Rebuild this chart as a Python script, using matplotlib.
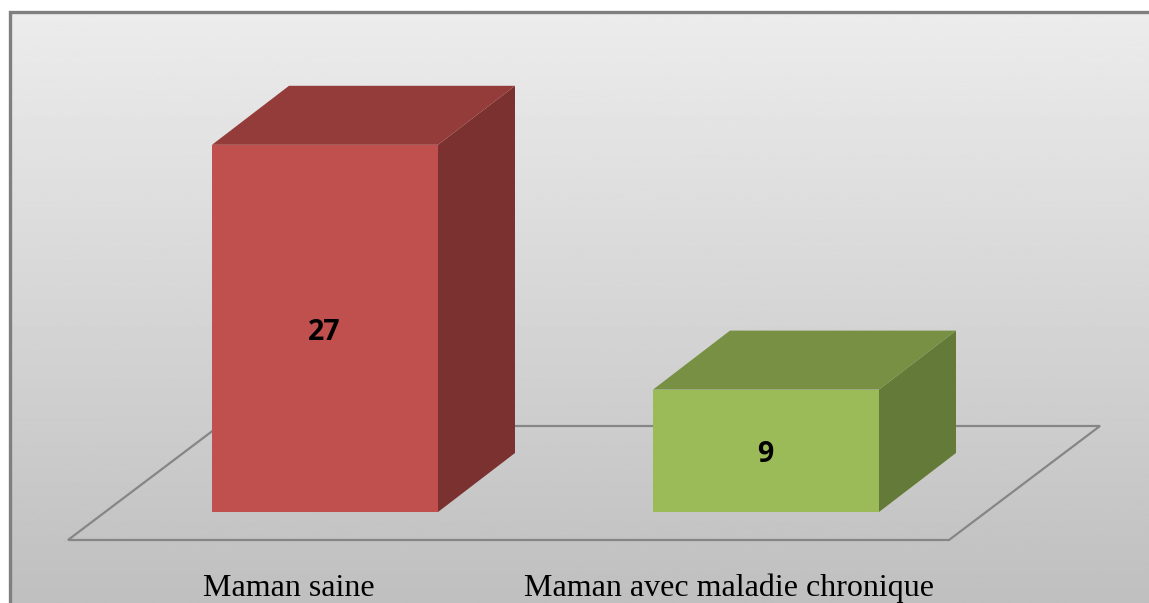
import matplotlib
matplotlib.use("Agg")
import matplotlib.pyplot as plt
import numpy as np
from matplotlib.patches import Polygon, Rectangle

categories = ["Maman saine", "Maman avec maladie chronique"]
values = [27, 9]
front_colors = ["#c0504d", "#9bbb59"]
top_colors = ["#943c39", "#779043"]
side_colors = ["#7a312f", "#647a38"]

WIDTH, HEIGHT = 1149, 603
PX_PER_CAT = 441.0
PX_PER_VALUE = 13.6
ZERO_X, ZERO_Y = 325.0, 512.0


def px_x(dx):
    return dx / PX_PER_CAT


def px_y(dy):
    return dy / PX_PER_VALUE


BAR_W = px_x(226)
DEPTH_X, DEPTH_Y = px_x(77), px_y(59)
GRAY = "#868686"

fig = plt.figure(figsize=(WIDTH / 100, HEIGHT / 100), dpi=100, facecolor="white")
ax = fig.add_axes([0, 0, 1, 1])
ax.set_xlim(-ZERO_X / PX_PER_CAT, (WIDTH - ZERO_X) / PX_PER_CAT)
ax.set_ylim(-(HEIGHT - ZERO_Y) / PX_PER_VALUE, ZERO_Y / PX_PER_VALUE)
ax.axis("off")

# chart area: grey gradient with the border on the left and top only
x0, x1 = ax.get_xlim()
y0, y1 = ax.get_ylim()
left = x0 + px_x(10)
top = y1 - px_y(12)
gradient = np.linspace(0.925, 0.75, 256).reshape(-1, 1)
ax.imshow(
    gradient, cmap="gray", vmin=0, vmax=1, aspect="auto",
    extent=(left, x1, y0, top), zorder=0,
)
ax.set_xlim(x0, x1)
ax.set_ylim(y0, y1)
ax.plot([left, left, x1], [y0, top, top], color="#7f7f7f", lw=2.4, zorder=1,
        solid_joinstyle="miter")

# floor
floor_y = -px_y(28)
floor_left = -px_x(257)
floor = [
    (floor_left, floor_y),
    (floor_left + px_x(881), floor_y),
    (floor_left + px_x(1032), floor_y + px_y(114)),
    (floor_left + px_x(151), floor_y + px_y(114)),
]
ax.add_patch(Polygon(floor, closed=True, fill=False, edgecolor=GRAY, lw=1.6, zorder=2))

# bars, front + top + side faces
for i, (value, cat) in enumerate(zip(values, categories)):
    l, r = i - BAR_W / 2, i + BAR_W / 2
    ax.add_patch(Polygon(
        [(r, 0), (r + DEPTH_X, DEPTH_Y), (r + DEPTH_X, value + DEPTH_Y), (r, value)],
        closed=True, facecolor=side_colors[i], edgecolor="none", zorder=3,
    ))
    ax.add_patch(Polygon(
        [(l, value), (r, value), (r + DEPTH_X, value + DEPTH_Y), (l + DEPTH_X, value + DEPTH_Y)],
        closed=True, facecolor=top_colors[i], edgecolor="none", zorder=3,
    ))
    ax.add_patch(Rectangle((l, 0), BAR_W, value, facecolor=front_colors[i],
                           edgecolor="none", zorder=4))
    ax.text(i - px_x(1), value / 2 - px_y(4), str(value), ha="center", va="center",
            fontsize=20.5, fontweight="bold", family="Open Sans", color="black", zorder=5)
    ax.text(i - px_x(36.5), -px_y(76), cat, ha="center", va="center",
            fontsize=23, family="Liberation Serif", color="black", zorder=5)

fig.savefig("out.png", dpi=100)
